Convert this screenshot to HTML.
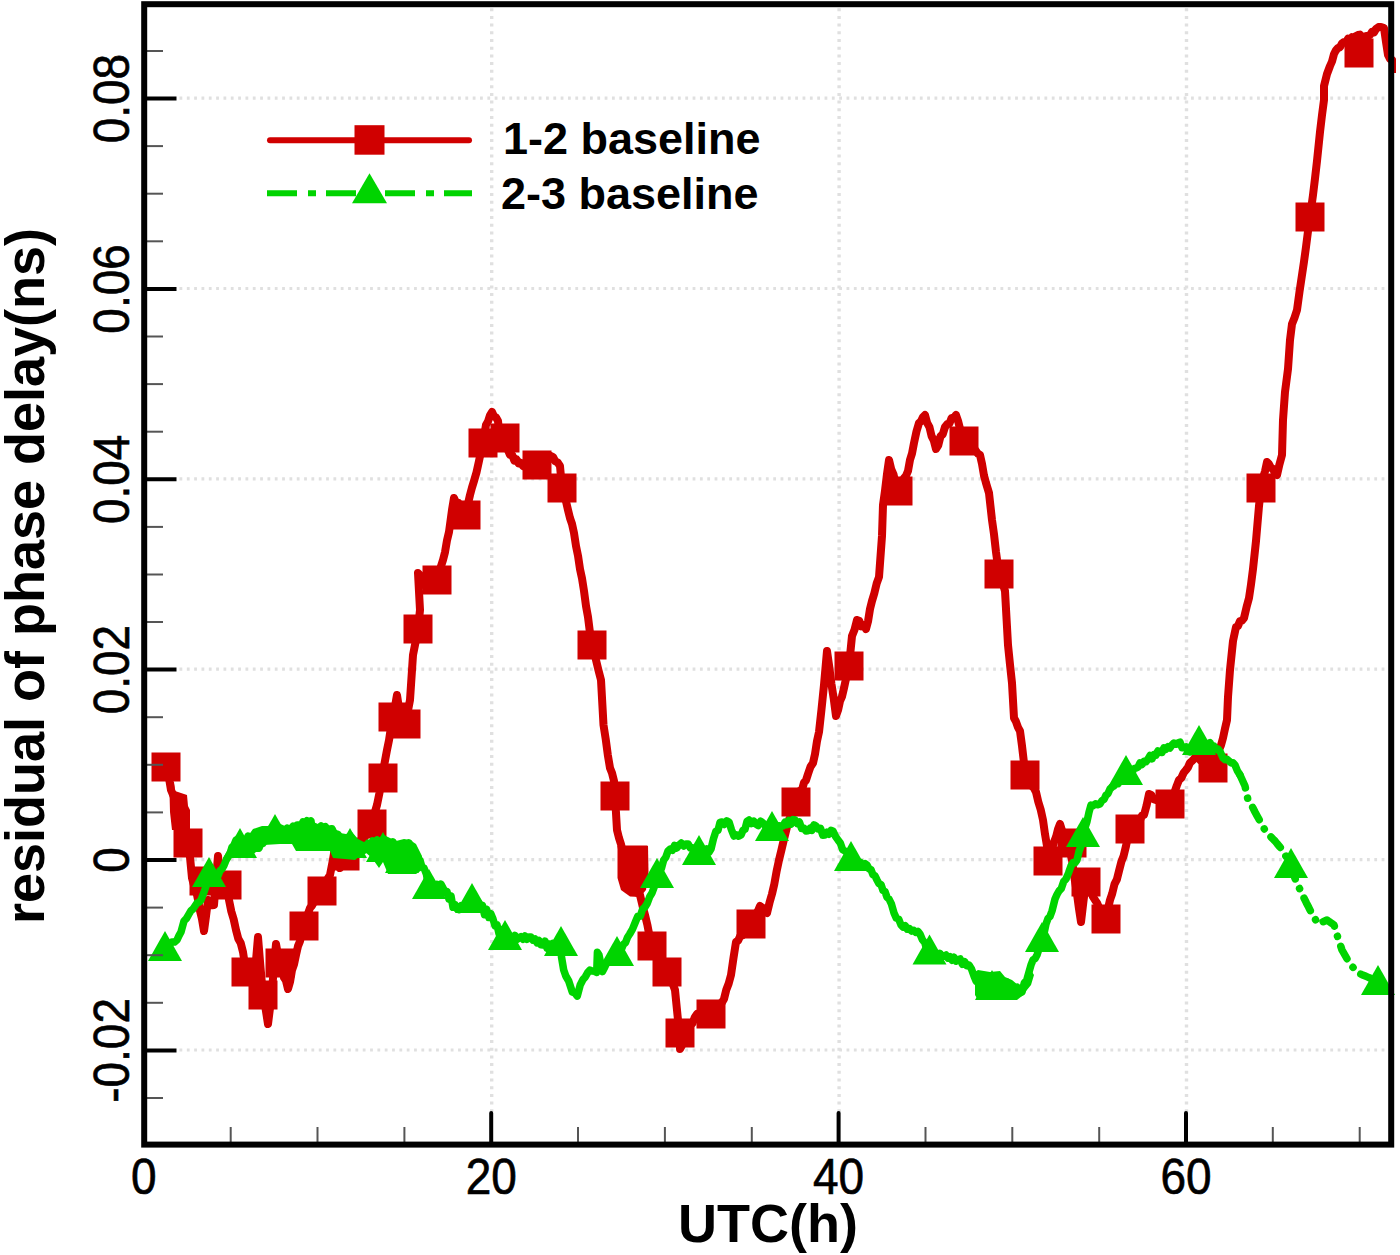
<!DOCTYPE html><html><head><meta charset="utf-8"><style>html,body{margin:0;padding:0;background:#fff;}body{width:1400px;height:1255px;overflow:hidden;position:relative;}svg{position:absolute;left:0;top:0;}text{font-family:"Liberation Sans",sans-serif;}</style></head><body>
<svg width="1400" height="1255" viewBox="0 0 1400 1255">
<rect x="0" y="0" width="1400" height="1255" fill="#fff"/>
<g stroke="#e0e0e0" stroke-width="3.2" stroke-dasharray="2.8 4.53"><line x1="179.5" y1="98.2" x2="1388.2" y2="98.2"/><line x1="179.5" y1="288.5" x2="1388.2" y2="288.5"/><line x1="179.5" y1="478.9" x2="1388.2" y2="478.9"/><line x1="179.5" y1="669.2" x2="1388.2" y2="669.2"/><line x1="179.5" y1="859.6" x2="1388.2" y2="859.6"/><line x1="179.5" y1="1050.0" x2="1388.2" y2="1050.0"/></g>
<g stroke="#e0e0e0" stroke-width="3.4" stroke-dasharray="3 4.7"><line x1="491.7" y1="8.2" x2="491.7" y2="1112"/><line x1="839.1" y1="8.2" x2="839.1" y2="1112"/><line x1="1186.5" y1="8.2" x2="1186.5" y2="1112"/></g>
<polyline points="166.0,767.0 169.0,778.0 171.0,790.0 173.5,795.8 176.0,800.0 178.0,806.2 180.0,815.0 182.0,822.5 184.0,828.0 186.0,834.1 188.0,843.0 190.0,857.0 192.0,878.0 194.0,885.4 196.0,890.0 198.0,899.7 200.0,910.9 202.0,919.0 204.0,931.0 206.0,916.3 208.0,900.0 210.0,900.9 212.0,905.3 214.0,905.0 216.0,879.3 218.0,856.0 220.0,876.2 222.0,893.0 224.5,887.8 227.0,885.0 229.0,900.0 231.3,911.4 233.7,919.4 236.0,930.0 238.3,938.7 240.7,942.9 243.0,952.0 246.0,972.0 248.0,976.5 250.0,976.9 252.0,983.2 254.0,985.0 256.0,960.5 258.0,937.0 260.5,967.6 263.0,995.0 265.5,1008.2 268.0,1024.0 270.0,1007.9 272.0,990.0 274.0,966.6 276.0,944.0 278.0,955.3 280.0,963.0 282.0,968.3 284.0,977.6 286.0,980.7 288.0,989.0 290.0,982.0 292.0,970.1 294.0,964.5 296.0,955.0 298.0,946.1 300.0,941.3 302.0,931.8 304.0,926.0 306.0,921.4 308.0,913.6 310.0,908.0 312.0,905.6 314.0,901.8 316.0,901.0 318.0,895.8 320.0,894.9 322.0,891.0 324.0,886.3 326.0,883.9 328.0,878.2 330.0,875.0 332.5,862.2 335.0,848.0 337.5,857.0 340.0,868.0 342.5,863.0 345.0,856.0 347.2,852.4 349.4,852.7 351.6,848.0 353.8,848.5 356.0,845.0 358.0,841.5 360.0,842.1 362.0,838.5 364.0,838.3 366.0,835.0 368.0,829.9 370.0,829.1 372.0,824.0 374.5,813.5 377.0,805.0 379.5,792.7 382.0,778.0 384.5,763.4 387.0,750.0 389.0,740.3 391.0,727.0 393.0,717.0 395.0,706.6 397.0,695.0 400.0,715.0 402.0,717.6 404.0,722.3 406.0,724.0 408.0,710.5 410.0,700.0 413.0,655.0 415.5,642.4 418.0,629.0 420.0,610.0 418.0,573.0 420.3,575.3 422.7,582.1 425.0,585.0 427.0,583.5 429.0,584.2 431.0,580.9 433.0,583.5 435.0,580.4 437.0,580.0 439.0,574.7 441.0,566.2 443.0,560.0 445.0,552.2 447.0,540.4 449.0,532.0 452.0,510.0 454.0,498.0 456.2,503.2 458.4,502.8 460.6,509.4 462.8,509.6 465.0,515.0 467.5,505.9 470.0,495.0 472.0,487.5 474.0,481.0 476.5,472.4 479.0,461.0 481.0,451.5 483.0,443.0 486.0,425.0 488.0,421.4 490.0,415.3 492.0,412.0 494.0,416.4 496.0,417.4 498.0,421.0 500.0,440.0 502.0,439.5 504.0,438.0 506.0,441.9 508.0,450.2 510.0,455.0 512.2,454.9 514.3,460.5 516.5,459.5 518.7,463.5 520.8,462.9 523.0,466.0 525.0,466.9 527.0,463.5 529.0,465.6 531.0,462.3 533.0,465.0 535.0,461.4 537.0,462.0 539.0,462.1 541.0,458.4 543.0,459.8 545.0,458.0 547.0,456.9 549.0,459.5 551.0,456.0 553.0,457.0 555.3,461.3 557.7,462.6 560.0,466.0 562.0,488.0 564.0,496.4 566.0,501.3 568.0,510.0 570.0,518.1 572.0,523.9 574.0,533.0 576.0,546.0 578.0,555.7 580.0,569.2 582.0,578.3 584.0,591.0 586.0,606.0 588.0,617.0 590.0,633.0 592.0,645.0 594.0,650.9 596.0,660.0 598.5,670.4 601.0,680.0 603.5,725.0 605.7,739.0 607.8,754.8 610.0,768.0 612.0,773.0 614.0,781.0 615.0,796.0 617.0,830.0 619.0,838.1 621.0,844.2 623.0,853.5 625.0,860.0 628.0,885.0 630.0,886.0 632.0,889.1 634.0,889.3 636.0,892.4 638.0,892.3 640.0,895.0 642.5,905.7 645.0,915.0 647.3,924.6 649.7,936.9 652.0,946.0 654.1,949.4 656.3,954.4 658.4,956.0 660.6,961.5 662.7,964.0 664.9,969.6 667.0,972.0 669.0,975.9 671.0,981.5 673.0,984.7 675.0,990.0 678.0,1020.0 680.0,1033.0 680.0,1049.0 682.0,1045.4 684.0,1039.1 686.0,1035.4 688.0,1030.0 690.2,1025.3 692.5,1023.3 694.8,1017.2 697.0,1014.0 699.0,1015.3 701.0,1013.5 703.0,1014.7 705.0,1012.9 707.0,1015.4 709.0,1013.2 711.0,1014.0 713.2,1012.1 715.3,1008.6 717.5,1007.4 719.7,1003.5 721.8,1002.8 724.0,999.0 726.3,989.7 728.7,983.5 731.0,975.0 733.5,957.9 736.0,942.0 738.1,940.7 740.3,935.8 742.4,935.6 744.6,931.0 746.7,929.6 748.9,925.9 751.0,924.0 753.2,920.8 755.5,914.4 757.8,911.2 760.0,906.0 762.3,907.5 764.7,911.5 767.0,913.0 769.5,902.7 772.0,894.0 774.3,884.1 776.7,870.8 779.0,860.0 781.5,849.8 784.0,839.0 787.0,827.0 789.2,819.3 791.5,815.9 793.8,806.8 796.0,802.0 798.0,798.2 800.0,790.7 802.0,789.9 804.0,782.6 806.0,780.3 808.0,774.0 810.5,766.8 813.0,763.0 815.0,754.1 817.0,741.1 819.0,732.0 821.5,709.4 824.0,685.0 827.0,651.0 829.2,666.3 831.5,684.3 833.8,699.2 836.0,716.0 838.0,710.3 840.0,701.1 842.0,696.7 844.0,688.0 846.5,676.5 849.0,666.0 852.0,636.0 854.5,629.8 857.0,620.0 859.2,620.7 861.5,626.4 863.8,624.9 866.0,629.0 868.0,621.5 870.0,609.0 872.0,601.0 874.3,593.4 876.7,583.4 879.0,577.0 882.0,536.0 883.0,505.0 885.0,490.7 887.0,474.1 889.0,460.0 891.2,469.2 893.5,474.3 895.8,484.3 898.0,491.0 900.0,485.1 902.0,484.4 904.0,478.1 906.0,475.8 908.0,471.0 910.0,459.9 912.0,453.5 914.0,443.0 916.5,431.3 919.0,423.0 921.0,421.3 923.0,417.0 925.0,415.0 927.2,423.1 929.4,426.9 931.6,436.1 933.8,440.5 936.0,449.0 938.2,445.4 940.5,436.3 942.8,434.2 945.0,427.0 947.2,424.2 949.4,423.6 951.6,418.0 953.8,417.9 956.0,415.0 958.0,420.7 960.0,428.8 962.0,433.3 964.0,441.0 966.0,443.8 968.0,443.3 970.0,447.9 972.0,447.6 974.0,450.2 976.0,450.9 978.0,453.8 980.0,455.0 982.0,463.8 984.0,475.6 986.0,483.0 989.0,493.0 992.0,520.0 994.0,534.2 996.0,552.0 999.0,574.0 1001.0,580.1 1003.0,584.4 1005.0,591.0 1008.0,645.0 1010.0,664.7 1012.0,683.0 1014.0,718.0 1016.0,721.7 1018.0,727.4 1020.0,731.0 1022.0,745.9 1024.0,763.0 1025.0,775.0 1027.2,779.4 1029.4,781.1 1031.6,785.7 1033.8,787.9 1036.0,792.0 1038.3,801.8 1040.7,809.7 1043.0,820.0 1045.0,834.2 1047.0,846.0 1048.0,861.0 1050.0,854.1 1052.0,849.1 1054.0,842.0 1056.0,837.1 1058.0,829.1 1060.0,824.0 1062.0,830.5 1064.0,833.7 1066.0,841.0 1068.0,845.0 1070.0,851.5 1072.0,860.0 1074.2,876.3 1076.5,890.3 1078.8,907.4 1081.0,922.0 1083.5,900.9 1086.0,882.0 1088.2,887.3 1090.5,889.9 1092.8,896.4 1095.0,900.0 1097.2,903.2 1099.4,908.5 1101.6,910.3 1103.8,915.6 1106.0,919.0 1108.0,908.7 1110.0,900.0 1112.2,893.6 1114.5,884.1 1116.8,879.7 1119.0,871.0 1121.3,861.9 1123.7,855.7 1126.0,846.0 1128.0,836.3 1130.0,829.0 1132.0,827.6 1134.0,824.1 1136.0,823.4 1138.0,819.7 1140.0,820.1 1142.0,815.6 1144.0,815.0 1146.5,805.8 1149.0,794.0 1151.3,794.9 1153.7,799.2 1156.0,800.0 1158.0,799.6 1160.0,801.6 1162.0,800.7 1164.0,802.6 1166.0,802.4 1168.0,804.7 1170.0,804.0 1172.2,797.6 1174.5,792.4 1176.8,785.6 1179.0,780.0 1181.3,778.0 1183.7,772.8 1186.0,770.0 1188.0,767.3 1190.0,762.7 1192.0,761.0 1194.0,758.9 1196.0,756.0 1198.1,756.2 1200.2,760.1 1202.4,759.2 1204.5,763.4 1206.6,762.5 1208.8,766.3 1210.9,766.2 1213.0,768.0 1215.0,763.2 1217.0,755.1 1219.0,750.0 1221.0,745.2 1223.0,738.0 1225.0,728.6 1227.0,720.0 1228.0,697.0 1230.0,670.0 1233.0,641.0 1236.0,627.0 1238.0,625.9 1240.0,621.1 1242.0,620.6 1244.0,618.0 1246.5,607.3 1249.0,598.0 1251.0,584.5 1253.0,569.0 1256.0,541.0 1259.0,506.0 1261.0,488.0 1263.0,478.0 1265.0,471.3 1267.0,462.0 1269.0,464.1 1271.0,467.8 1273.0,468.8 1275.0,473.6 1277.0,475.0 1279.5,464.2 1282.0,455.0 1283.0,420.0 1285.0,392.0 1288.0,369.0 1290.0,340.0 1292.0,324.0 1294.5,317.7 1297.0,310.0 1299.5,291.7 1302.0,275.0 1304.0,261.7 1306.0,247.0 1308.0,231.2 1310.0,217.0 1313.0,195.0 1315.0,178.4 1317.0,161.0 1320.0,132.0 1322.0,115.1 1324.0,100.0 1324.0,86.0 1327.0,74.0 1330.0,66.0 1332.0,61.5 1334.0,54.0 1336.0,50.2 1338.0,48.0 1340.0,47.2 1342.0,43.5 1344.0,42.0 1346.0,42.1 1348.0,38.8 1350.0,40.1 1352.0,37.1 1354.0,37.9 1356.0,36.0 1358.0,35.0 1360.0,34.6 1362.0,37.7 1364.0,37.0 1366.0,35.9 1368.0,36.1 1370.0,35.0 1372.0,31.8 1374.0,32.4 1376.0,29.0 1378.5,27.1 1381.0,27.0 1384.0,28.0 1386.0,42.0 1388.0,55.0 1390.0,58.8 1392.0,59.8 1394.0,64.0 1395.0,69.0" fill="none" stroke="#d00000" stroke-width="8" stroke-linejoin="round" stroke-linecap="round"/>
<path d="M617.5,846L648,846L648.5,872L646,890L640,897L630,896.5L621,890L617.5,878Z" fill="#d00000"/>
<path d="M167,782L174,782L175,791L187,795L188,806L190,810L190,830L172,830L170,812L169.5,793Z" fill="#d00000"/>
<g fill="#d00000"><rect x="151.5" y="752.5" width="29" height="29"/><rect x="173.5" y="828.5" width="29" height="29"/><rect x="189.5" y="866.5" width="29" height="29"/><rect x="212.5" y="870.5" width="29" height="29"/><rect x="231.5" y="957.5" width="29" height="29"/><rect x="248.5" y="980.5" width="29" height="29"/><rect x="265.5" y="948.5" width="29" height="29"/><rect x="289.5" y="911.5" width="29" height="29"/><rect x="307.5" y="876.5" width="29" height="29"/><rect x="330.5" y="841.5" width="29" height="29"/><rect x="357.5" y="809.5" width="29" height="29"/><rect x="368.5" y="763.5" width="29" height="29"/><rect x="378.5" y="702.5" width="29" height="29"/><rect x="391.5" y="709.5" width="29" height="29"/><rect x="403.5" y="614.5" width="29" height="29"/><rect x="422.5" y="565.5" width="29" height="29"/><rect x="451.5" y="500.5" width="29" height="29"/><rect x="468.5" y="428.5" width="29" height="29"/><rect x="490.5" y="423.5" width="29" height="29"/><rect x="522.5" y="450.5" width="29" height="29"/><rect x="547.5" y="473.5" width="29" height="29"/><rect x="577.5" y="630.5" width="29" height="29"/><rect x="600.5" y="781.5" width="29" height="29"/><rect x="618.5" y="845.5" width="29" height="29"/><rect x="637.5" y="931.5" width="29" height="29"/><rect x="652.5" y="957.5" width="29" height="29"/><rect x="665.5" y="1018.5" width="29" height="29"/><rect x="696.5" y="999.5" width="29" height="29"/><rect x="736.5" y="909.5" width="29" height="29"/><rect x="781.5" y="787.5" width="29" height="29"/><rect x="834.5" y="651.5" width="29" height="29"/><rect x="883.5" y="476.5" width="29" height="29"/><rect x="949.5" y="426.5" width="29" height="29"/><rect x="984.5" y="559.5" width="29" height="29"/><rect x="1010.5" y="760.5" width="29" height="29"/><rect x="1033.5" y="846.5" width="29" height="29"/><rect x="1057.5" y="828.5" width="29" height="29"/><rect x="1071.5" y="867.5" width="29" height="29"/><rect x="1091.5" y="904.5" width="29" height="29"/><rect x="1115.5" y="814.5" width="29" height="29"/><rect x="1155.5" y="789.5" width="29" height="29"/><rect x="1198.5" y="753.5" width="29" height="29"/><rect x="1246.5" y="473.5" width="29" height="29"/><rect x="1295.5" y="202.5" width="29" height="29"/><rect x="1344.5" y="38.5" width="29" height="29"/></g>
<polyline points="165.0,951.0 167.3,948.7 169.7,944.5 172.0,942.0 174.5,942.1 177.0,940.0 179.0,935.6 181.0,932.0 184.0,921.0 186.5,918.4 189.0,914.0 191.0,910.6 193.0,909.0 195.0,906.0 197.0,903.1 199.0,902.3 201.0,900.0 204.0,892.0 206.0,886.2 208.0,882.0 209.0,877.0 211.3,877.7 213.7,877.3 216.0,878.0 218.0,875.8 220.0,870.7 222.0,869.0 224.0,865.4 226.0,860.4 228.0,857.0 230.0,853.8 232.0,847.1 234.0,845.2 236.0,840.0 238.0,843.2 240.0,848.0 242.0,845.0 244.0,842.0 246.0,841.2 248.0,836.0 250.2,837.3 252.4,841.6 254.6,842.5 256.8,846.7 259.0,848.0 261.0,843.1 263.0,843.4 265.0,838.1 267.0,837.0 269.0,838.0 271.0,834.3 273.0,836.3 275.0,834.0 277.0,832.6 279.0,833.0 281.0,830.7 283.0,832.7 285.0,830.0 287.0,828.3 289.0,830.5 291.0,829.0 293.0,826.3 295.0,828.4 297.0,824.9 299.0,825.0 301.0,826.4 303.0,821.8 305.0,824.0 307.0,820.7 309.0,823.2 311.0,821.0 313.0,840.0 315.0,834.2 317.0,835.0 319.0,828.4 321.0,826.0 323.2,829.2 325.5,826.8 327.8,829.6 330.0,829.0 332.0,828.7 334.0,833.1 336.0,834.0 338.0,834.5 340.0,838.6 342.0,838.2 344.0,844.0 346.0,842.4 348.0,848.3 350.0,848.0 352.0,849.4 354.0,853.0 356.0,853.9 358.0,849.3 360.0,851.7 362.0,847.6 364.0,850.2 366.0,847.0 368.2,843.2 370.4,845.6 372.6,841.0 374.8,842.0 377.0,840.0 379.0,842.1 381.0,849.8 383.0,852.0 385.0,847.5 387.0,850.1 389.0,844.9 391.0,845.3 393.0,842.0 395.2,845.4 397.5,853.0 399.8,856.3 402.0,863.0 404.3,857.2 406.7,848.9 409.0,843.0 411.3,848.0 413.7,849.6 416.0,856.0 418.0,859.8 420.0,860.2 422.0,867.3 424.0,868.0 426.5,874.5 429.0,889.0 431.0,890.0 433.0,886.2 435.0,891.4 437.0,884.3 439.0,892.1 441.0,884.1 443.0,888.0 445.0,892.9 447.0,891.6 449.0,899.2 451.0,895.9 453.0,907.3 455.0,904.6 457.0,909.0 459.1,909.7 461.3,905.6 463.4,908.2 465.6,902.9 467.7,907.7 469.9,902.0 472.0,903.0 474.0,903.4 476.0,902.0 478.1,901.7 480.2,908.5 482.4,905.4 484.5,914.8 486.6,909.2 488.8,917.5 490.9,913.8 493.0,919.0 495.0,925.8 497.0,924.9 499.0,933.6 501.0,929.3 503.0,940.5 505.0,940.0 507.0,935.9 509.0,941.7 511.0,936.8 513.0,940.1 515.0,935.4 517.0,939.4 519.0,938.0 521.0,936.7 523.0,939.3 525.0,935.9 527.0,939.3 529.0,937.0 531.0,937.1 533.0,940.2 535.0,939.0 537.0,942.8 539.0,940.5 541.0,944.8 543.0,945.0 545.0,941.1 547.0,948.3 549.0,943.9 551.0,947.3 553.0,943.4 555.0,947.9 557.0,944.4 559.0,949.8 561.0,946.0 561.5,957.0 563.7,970.0 565.8,976.0 568.7,981.0 572.3,992.0 574.8,993.0 577.3,996.0 580.2,985.0 583.0,979.5 585.3,976.9 587.7,972.6 590.0,970.0 592.2,971.1 594.5,971.3 596.7,972.4 597.4,952.3 599.0,955.0 602.4,971.6 604.5,967.8 606.7,963.0 608.8,961.2 610.8,961.1 612.9,958.5 614.9,957.6 617.0,956.0 619.1,951.4 621.2,949.9 623.4,944.4 625.5,942.6 627.6,937.2 629.7,934.0 632.5,929.2 635.4,922.0 637.8,916.3 640.2,916.3 642.6,909.2 645.0,907.0 647.3,903.2 649.7,896.7 652.0,893.0 654.5,886.2 657.0,878.0 659.2,871.0 661.4,868.5 663.6,860.2 665.8,857.3 668.0,851.0 670.2,849.0 672.4,850.3 674.6,845.4 676.8,848.0 679.0,845.0 681.3,843.0 683.7,846.0 686.0,844.0 688.2,844.1 690.3,848.1 692.5,847.8 694.7,851.6 696.8,851.9 699.0,854.0 701.0,853.7 703.0,851.3 705.0,852.5 707.0,848.8 709.0,852.2 711.0,849.0 713.5,838.6 716.0,831.0 718.0,830.4 720.0,822.5 722.0,822.0 724.3,824.4 726.7,820.8 729.0,822.0 731.5,829.9 734.0,836.0 736.3,834.7 738.7,836.2 741.0,835.0 743.0,830.3 745.0,829.2 747.0,821.4 749.0,820.0 751.3,823.5 753.7,821.2 756.0,824.0 758.3,825.5 760.7,821.2 763.0,823.0 765.2,825.7 767.5,825.2 769.8,831.3 772.0,831.0 774.2,827.7 776.5,830.5 778.8,825.8 781.0,826.0 783.0,826.0 785.0,822.2 787.0,824.6 789.0,820.5 791.0,824.2 793.0,819.6 795.0,820.0 797.2,823.5 799.4,822.0 801.6,828.5 803.8,828.0 806.0,831.0 808.0,830.8 810.0,828.2 812.0,830.3 814.0,824.9 816.0,826.0 818.2,829.0 820.5,828.3 822.8,835.2 825.0,835.0 827.0,832.2 829.0,834.2 831.0,830.4 833.0,831.0 835.5,836.3 838.0,840.0 840.3,843.1 842.7,849.8 845.0,851.0 847.0,852.5 849.0,859.2 851.0,861.0 853.0,859.6 855.0,863.1 857.0,860.7 859.0,864.7 861.0,862.8 863.0,864.8 865.0,863.6 867.0,865.0 869.0,868.8 871.0,869.7 873.0,874.8 875.0,875.9 877.0,880.0 879.0,883.8 881.0,884.5 883.0,890.5 885.0,891.5 887.0,897.2 889.0,899.0 891.5,904.2 894.0,913.0 896.3,918.1 898.7,919.1 901.0,925.0 903.1,927.2 905.2,925.7 907.3,929.2 909.4,928.6 911.6,931.1 913.7,930.3 915.8,932.4 917.9,931.3 920.0,934.0 922.4,939.7 924.8,942.8 927.1,950.6 929.5,954.0 931.6,952.7 933.6,955.7 935.7,953.3 937.8,956.8 939.9,953.4 941.9,956.4 944.0,956.0 946.0,955.0 948.0,958.1 950.0,956.7 952.0,960.3 954.0,957.3 956.0,961.1 958.0,960.0 960.2,959.0 962.4,964.3 964.6,961.6 966.8,965.7 969.0,965.0 971.5,969.0 974.0,976.0 976.2,981.3 978.4,974.7 980.6,984.2 982.8,978.6 985.0,984.0 987.3,989.5 989.7,982.3 992.0,990.0 994.2,994.1 996.3,983.6 998.5,994.2 1000.7,985.6 1002.8,991.4 1005.0,987.0 1007.0,981.9 1009.0,993.4 1011.0,986.9 1013.0,991.2 1015.0,990.0 1017.3,987.3 1019.7,992.9 1022.0,992.0 1024.3,983.0 1026.7,980.2 1029.0,972.0 1031.0,964.9 1033.0,960.0 1035.0,958.7 1037.0,955.0 1039.5,947.1 1042.0,942.0 1044.0,933.5 1046.0,924.0 1048.0,918.5 1050.0,916.4 1052.0,911.0 1055.0,899.0 1057.0,894.5 1059.0,891.0 1061.3,888.4 1063.7,881.5 1066.0,879.0 1068.5,873.1 1071.0,866.0 1073.0,862.6 1075.0,862.8 1077.0,860.0 1079.0,851.4 1081.0,846.2 1083.0,837.0 1085.0,827.7 1087.0,821.5 1089.0,812.2 1091.0,805.0 1093.2,805.7 1095.5,803.8 1097.8,804.8 1100.0,804.0 1102.0,800.5 1104.0,799.5 1106.0,795.2 1108.0,793.6 1110.0,789.0 1112.0,787.0 1114.0,785.9 1116.0,783.4 1118.0,783.8 1120.0,780.4 1122.0,780.2 1124.0,776.9 1126.0,777.0 1128.0,776.4 1130.0,771.0 1132.0,772.3 1134.0,768.8 1136.0,768.0 1138.0,767.1 1140.0,762.9 1142.0,764.5 1144.0,761.2 1146.0,761.8 1148.0,759.0 1150.0,755.5 1152.0,758.8 1154.0,754.5 1156.0,755.1 1158.0,750.8 1160.0,752.0 1162.0,752.5 1164.0,747.8 1166.0,749.2 1168.0,746.7 1170.0,748.0 1172.0,745.0 1174.0,743.0 1176.0,744.3 1178.0,743.0 1180.0,742.1 1182.0,747.8 1184.0,747.5 1186.0,746.9 1188.0,751.2 1190.0,752.0 1192.2,748.0 1194.5,749.1 1196.8,744.5 1199.0,745.0 1201.2,746.2 1203.5,743.3 1205.8,745.9 1208.0,744.0 1210.0,742.6 1212.0,747.0 1214.0,746.2 1216.0,749.6 1218.0,749.0 1220.5,752.5 1223.0,758.0 1225.0,759.7 1227.0,759.2 1229.0,761.0 1231.0,762.9 1233.0,762.8 1235.0,765.0 1237.5,771.1 1240.0,775.0" fill="none" stroke="#00d400" stroke-width="7.5" stroke-linejoin="round" stroke-linecap="round"/>
<polyline points="1240.0,775.0 1242.5,780.5 1245.0,786.0 1248.0,800.0 1250.0,803.0 1252.0,806.0 1255.0,812.0 1257.0,815.7 1259.0,819.3 1261.0,823.0 1263.5,827.5 1266.0,832.0 1268.2,834.2 1270.5,836.5 1272.8,838.8 1275.0,841.0 1277.2,843.8 1279.5,846.5 1281.8,849.2 1284.0,852.0 1286.3,857.3 1288.7,862.7 1291.0,868.0 1293.5,874.5 1296.0,881.0 1298.0,885.2 1300.0,889.5 1302.0,893.8 1304.0,898.0 1306.3,902.7 1308.7,907.3 1311.0,912.0 1313.3,916.0 1315.7,920.0 1318.0,924.0 1320.2,923.0 1322.5,922.0 1324.8,921.0 1327.0,920.0 1329.3,921.7 1331.7,923.3 1334.0,925.0 1336.0,931.5 1338.0,938.0 1340.0,944.0 1342.0,950.0 1344.0,953.5 1346.0,957.0 1348.0,960.5 1350.0,964.0 1352.0,966.2 1354.0,968.5 1356.0,970.8 1358.0,973.0 1360.0,973.8 1362.0,974.7 1364.0,975.5 1366.0,976.3 1368.0,977.2 1370.0,978.0 1372.0,979.8 1374.0,981.5 1376.0,983.2 1378.0,985.0 1380.0,985.6 1382.0,986.2 1384.0,986.8 1386.0,987.4 1388.0,988.0" fill="none" stroke="#00d400" stroke-width="7.5" stroke-linejoin="round" stroke-linecap="round" stroke-dasharray="14 10.5 0.1 10.5"/>
<path d="M248,836L253,829L262,826L268,826L276,822L285,826L290,829L296,825L302,823L311,821L318,824L322,826L328,828L333,835L340,833L346,834L352,832L358,839L364,842L372,840L378,838L384,835L390,838L396,841L404,839L410,840L416,844L422,856L422,870L416,874L388,874L383,862L379,868L372,858L365,852L355,860L345,859L333,858L330,851L296,851L292,844L280,844L264,845L259,852L256,852L250,857L248,850Z" fill="#00d400"/>
<g fill="#00d400"><path d="M165,931L182,961L148,961Z"/><path d="M209,857L226,887L192,887Z"/><path d="M240,828L257,858L223,858Z"/><path d="M275,814L292,844L258,844Z"/><path d="M313,820L330,850L296,850Z"/><path d="M350,828L367,858L333,858Z"/><path d="M383,832L400,862L366,862Z"/><path d="M402,843L419,873L385,873Z"/><path d="M429,869L446,899L412,899Z"/><path d="M472,883L489,913L455,913Z"/><path d="M505,920L522,950L488,950Z"/><path d="M561,926L578,956L544,956Z"/><path d="M617,936L634,966L600,966Z"/><path d="M657,858L674,888L640,888Z"/><path d="M699,835L716,865L682,865Z"/><path d="M772,811L789,841L755,841Z"/><path d="M851,841L868,871L834,871Z"/><path d="M929.5,934.5L946.5,964.5L912.5,964.5Z"/><path d="M992,970L1009,1000L975,1000Z"/><path d="M1042,922L1059,952L1025,952Z"/><path d="M1083,817L1100,847L1066,847Z"/><path d="M1126,755L1143,785L1109,785Z"/><path d="M1199,725L1216,755L1182,755Z"/><path d="M1291,848L1308,878L1274,878Z"/><path d="M1378,965L1395,995L1361,995Z"/></g>
<path d="M975,972L978,970L990,972L1000,971L1005,977L1012,980L1018,985L1022,985L1028,975L1031,970L1034,975L1031,985L1022,996L1017,1000L978,1000L975,995Z" fill="#00d400"/>
<rect x="1396" y="0" width="4" height="1255" fill="#fff"/>
<g stroke="#000"><line x1="144.2" y1="98.6" x2="176.5" y2="98.6" stroke-width="4"/><line x1="144.2" y1="288.9" x2="176.5" y2="288.9" stroke-width="4"/><line x1="144.2" y1="479.3" x2="176.5" y2="479.3" stroke-width="4"/><line x1="144.2" y1="669.6" x2="176.5" y2="669.6" stroke-width="4"/><line x1="144.2" y1="860.0" x2="176.5" y2="860.0" stroke-width="4"/><line x1="144.2" y1="1050.4" x2="176.5" y2="1050.4" stroke-width="4"/><line x1="144.2" y1="1098.0" x2="163" y2="1098.0" stroke-width="2" stroke="#555"/><line x1="144.2" y1="1002.8" x2="163" y2="1002.8" stroke-width="2" stroke="#555"/><line x1="144.2" y1="955.2" x2="163" y2="955.2" stroke-width="2" stroke="#555"/><line x1="144.2" y1="907.6" x2="163" y2="907.6" stroke-width="2" stroke="#555"/><line x1="144.2" y1="812.4" x2="163" y2="812.4" stroke-width="2" stroke="#555"/><line x1="144.2" y1="764.8" x2="163" y2="764.8" stroke-width="2" stroke="#555"/><line x1="144.2" y1="717.2" x2="163" y2="717.2" stroke-width="2" stroke="#555"/><line x1="144.2" y1="622.0" x2="163" y2="622.0" stroke-width="2" stroke="#555"/><line x1="144.2" y1="574.5" x2="163" y2="574.5" stroke-width="2" stroke="#555"/><line x1="144.2" y1="526.9" x2="163" y2="526.9" stroke-width="2" stroke="#555"/><line x1="144.2" y1="431.7" x2="163" y2="431.7" stroke-width="2" stroke="#555"/><line x1="144.2" y1="384.1" x2="163" y2="384.1" stroke-width="2" stroke="#555"/><line x1="144.2" y1="336.5" x2="163" y2="336.5" stroke-width="2" stroke="#555"/><line x1="144.2" y1="241.3" x2="163" y2="241.3" stroke-width="2" stroke="#555"/><line x1="144.2" y1="193.7" x2="163" y2="193.7" stroke-width="2" stroke="#555"/><line x1="144.2" y1="146.1" x2="163" y2="146.1" stroke-width="2" stroke="#555"/><line x1="144.2" y1="51.0" x2="163" y2="51.0" stroke-width="2" stroke="#555"/><line x1="491.2" y1="1144.6" x2="491.2" y2="1113" stroke-width="4" stroke-linecap="round"/><line x1="838.6" y1="1144.6" x2="838.6" y2="1113" stroke-width="4" stroke-linecap="round"/><line x1="1186.0" y1="1144.6" x2="1186.0" y2="1113" stroke-width="4" stroke-linecap="round"/><line x1="230.7" y1="1144.6" x2="230.7" y2="1127" stroke-width="2" stroke="#555"/><line x1="317.5" y1="1144.6" x2="317.5" y2="1127" stroke-width="2" stroke="#555"/><line x1="404.4" y1="1144.6" x2="404.4" y2="1127" stroke-width="2" stroke="#555"/><line x1="578.0" y1="1144.6" x2="578.0" y2="1127" stroke-width="2" stroke="#555"/><line x1="664.9" y1="1144.6" x2="664.9" y2="1127" stroke-width="2" stroke="#555"/><line x1="751.8" y1="1144.6" x2="751.8" y2="1127" stroke-width="2" stroke="#555"/><line x1="925.5" y1="1144.6" x2="925.5" y2="1127" stroke-width="2" stroke="#555"/><line x1="1012.3" y1="1144.6" x2="1012.3" y2="1127" stroke-width="2" stroke="#555"/><line x1="1099.2" y1="1144.6" x2="1099.2" y2="1127" stroke-width="2" stroke="#555"/><line x1="1272.8" y1="1144.6" x2="1272.8" y2="1127" stroke-width="2" stroke="#555"/><line x1="1359.7" y1="1144.6" x2="1359.7" y2="1127" stroke-width="2" stroke="#555"/></g>
<rect x="144.2" y="4.2" width="1247.0" height="1140.4" fill="none" stroke="#000" stroke-width="6"/>
<line x1="270" y1="140.2" x2="469" y2="140.2" stroke="#d00000" stroke-width="6" stroke-linecap="round"/>
<rect x="354.5" y="125.2" width="30" height="29.5" fill="#d00000"/>
<line x1="267" y1="193.2" x2="472" y2="193.2" stroke="#00d400" stroke-width="6" stroke-dasharray="30 11 8 10"/>
<path d="M369.5,173.2L387,203.2L352,203.2Z" fill="#00d400"/>
<text x="503" y="154.4" font-size="45" font-weight="bold" fill="#000">1-2 baseline</text>
<text x="501" y="209" font-size="45" font-weight="bold" fill="#000">2-3 baseline</text>
<text transform="translate(143.8,1194) scale(1,1.07)" font-size="46" text-anchor="middle" fill="#000" stroke="#000" stroke-width="0.6">0</text>
<text transform="translate(491.2,1194) scale(1,1.07)" font-size="46" text-anchor="middle" fill="#000" stroke="#000" stroke-width="0.6">20</text>
<text transform="translate(838.6,1194) scale(1,1.07)" font-size="46" text-anchor="middle" fill="#000" stroke="#000" stroke-width="0.6">40</text>
<text transform="translate(1186.0,1194) scale(1,1.07)" font-size="46" text-anchor="middle" fill="#000" stroke="#000" stroke-width="0.6">60</text>
<text transform="translate(129.3,98.6) rotate(-90) scale(1,1.08)" font-size="46" text-anchor="middle" fill="#000" stroke="#000" stroke-width="0.6">0.08</text>
<text transform="translate(129.3,288.9) rotate(-90) scale(1,1.08)" font-size="46" text-anchor="middle" fill="#000" stroke="#000" stroke-width="0.6">0.06</text>
<text transform="translate(129.3,479.3) rotate(-90) scale(1,1.08)" font-size="46" text-anchor="middle" fill="#000" stroke="#000" stroke-width="0.6">0.04</text>
<text transform="translate(129.3,669.6) rotate(-90) scale(1,1.08)" font-size="46" text-anchor="middle" fill="#000" stroke="#000" stroke-width="0.6">0.02</text>
<text transform="translate(129.3,860.0) rotate(-90) scale(1,1.08)" font-size="46" text-anchor="middle" fill="#000" stroke="#000" stroke-width="0.6">0</text>
<text transform="translate(129.3,1050.4) rotate(-90) scale(1,1.08)" font-size="46" text-anchor="middle" fill="#000" stroke="#000" stroke-width="0.6">-0.02</text>
<text x="768" y="1242" font-size="54" font-weight="bold" text-anchor="middle" fill="#000">UTC(h)</text>
<text transform="translate(43.8,576) rotate(-90) scale(1,1.04)" font-size="54" font-weight="bold" text-anchor="middle" fill="#000">residual of phase delay(ns)</text>
</svg></body></html>
